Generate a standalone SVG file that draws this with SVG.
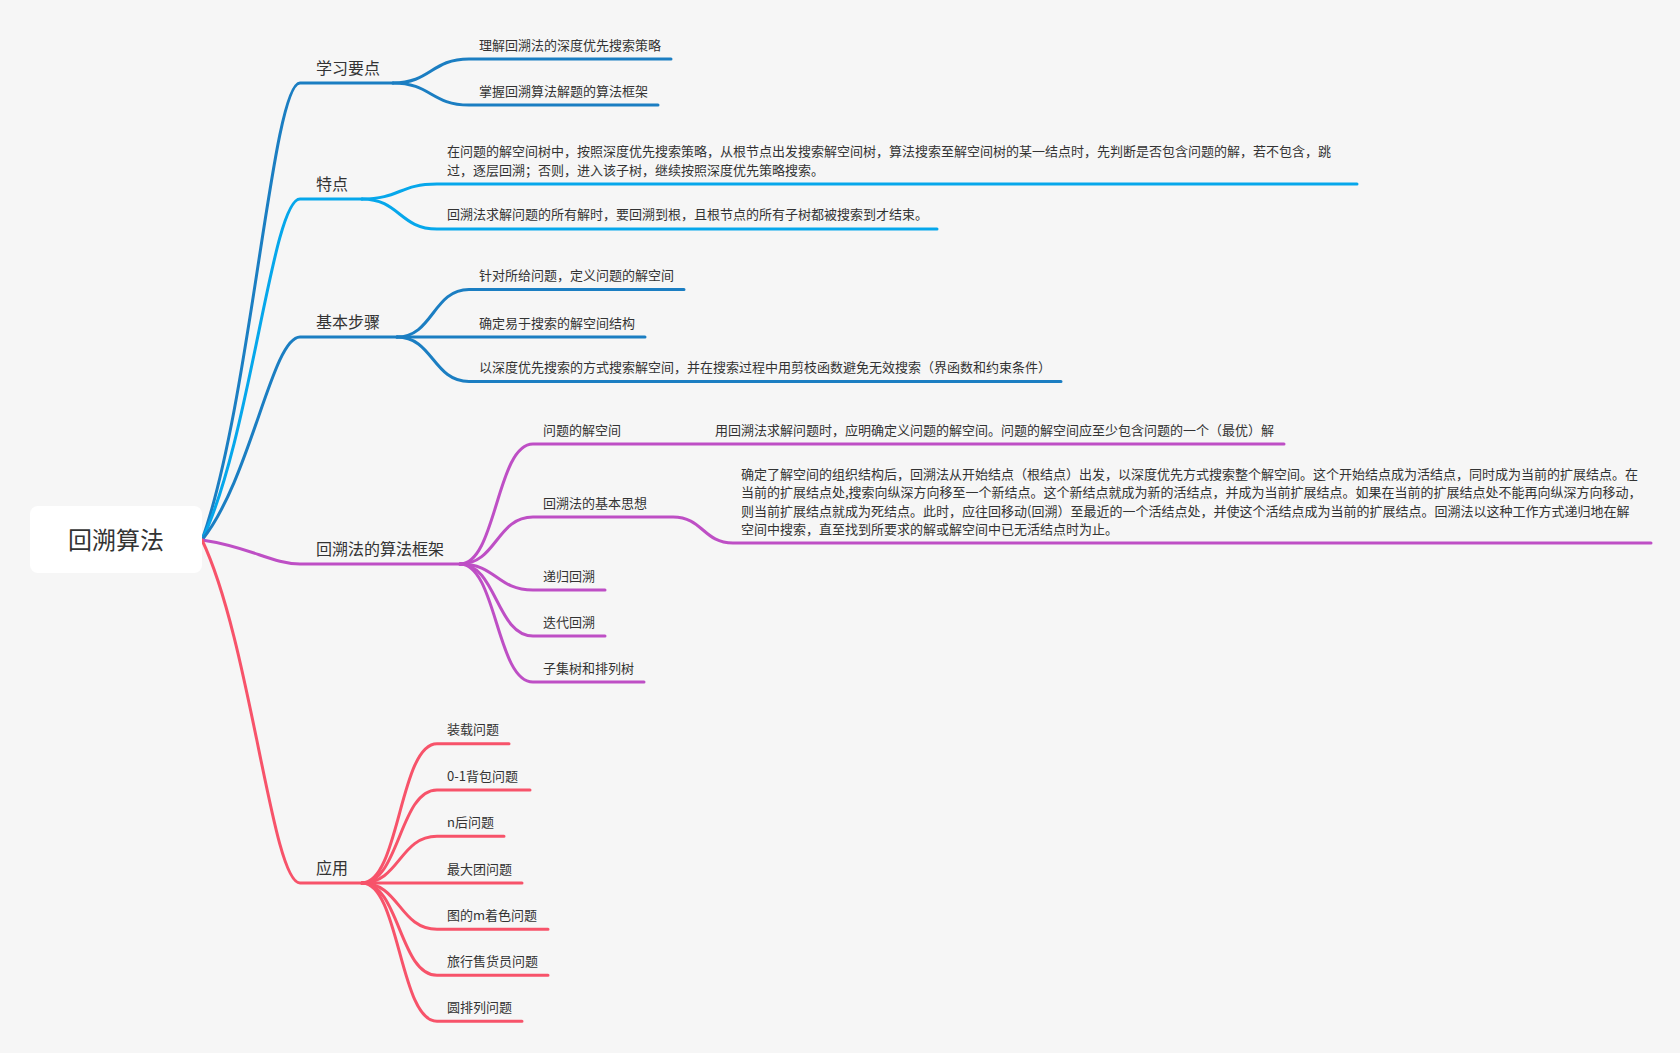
<svg xmlns="http://www.w3.org/2000/svg" width="1680" height="1053" viewBox="0 0 1680 1053">
<style>
text{font-family:"Noto Sans CJK SC","Noto Sans",sans-serif;fill:#333333}
.l1{font-size:16px}
.l2{font-size:13px}
.root{font-size:24px}
path{fill:none;stroke-width:3;stroke-linecap:round;stroke-linejoin:round}
.db{stroke:#1B7EC2}
.lb{stroke:#06A7EB}
.pu{stroke:#BE4FC5}
.rd{stroke:#F7536A}
</style>
<rect x="0" y="0" width="1680" height="1053" fill="#F6F6F6"/>
<g id="connectors">
<path class="db" d="M202,540 C251,403 272,83 300,83 H393"/>
<path class="lb" d="M202,540 C251,438 272,199 300,199 H362"/>
<path class="db" d="M202,540 C251,479 272,337 300,337 H397"/>
<path class="pu" d="M202,540 C251,547 272,564 300,564 H460"/>
<path class="rd" d="M202,540 C251,643 272,883 300,883 H362"/>
<path class="db" d="M393,83 C431,83 431,59 469,59 H671"/>
<path class="db" d="M393,83 C431,83 431,105 469,105 H658"/>
<path class="lb" d="M362,199 C399.5,199 399.5,184 437,184 H1357"/>
<path class="lb" d="M362,199 C399.5,199 399.5,229 437,229 H937"/>
<path class="db" d="M397,337 C433,337 433,289.5 469,289.5 H684"/>
<path class="db" d="M397,337 H645"/>
<path class="db" d="M397,337 C433,337 433,381.5 469,381.5 H1061"/>
<path class="pu" d="M460,564 C496.5,564 496.5,444 533,444 H1284"/>
<path class="pu" d="M460,564 C496.5,564 496.5,517 533,517 H673 C703,517 703,543 733,543 H1651"/>
<path class="pu" d="M460,564 C496.5,564 496.5,590 533,590 H605"/>
<path class="pu" d="M460,564 C496.5,564 496.5,636 533,636 H605"/>
<path class="pu" d="M460,564 C496.5,564 496.5,682 533,682 H644"/>
<path class="rd" d="M362,883 C399.5,883 399.5,743.7 437,743.7 H509"/>
<path class="rd" d="M362,883 C399.5,883 399.5,790 437,790 H530"/>
<path class="rd" d="M362,883 C399.5,883 399.5,836.3 437,836.3 H504"/>
<path class="rd" d="M362,883 H522"/>
<path class="rd" d="M362,883 C399.5,883 399.5,929.3 437,929.3 H548"/>
<path class="rd" d="M362,883 C399.5,883 399.5,975.3 437,975.3 H548"/>
<path class="rd" d="M362,883 C399.5,883 399.5,1021.3 437,1021.3 H522"/>
</g>
<g id="root">
<rect x="30" y="506" width="172" height="67" rx="8" fill="#FFFFFF"/>
<text class="root" x="116" y="549" text-anchor="middle">回溯算法</text>
</g>
<g id="n-xuexi"><text class="l1" x="316" y="73.5">学习要点</text></g>
<g id="n-xuexi-1"><text class="l2" x="479" y="49.5">理解回溯法的深度优先搜索策略</text></g>
<g id="n-xuexi-2"><text class="l2" x="479" y="95.5">掌握回溯算法解题的算法框架</text></g>
<g id="n-tedian"><text class="l1" x="316" y="189.5">特点</text></g>
<g id="n-tedian-1"><text class="l2" x="447" y="156">在问题的解空间树中，按照深度优先搜索策略，从根节点出发搜索解空间树，算法搜索至解空间树的某一结点时，先判断是否包含问题的解，若不包含，跳</text><text class="l2" x="447" y="174.5">过，逐层回溯；否则，进入该子树，继续按照深度优先策略搜索。</text></g>
<g id="n-tedian-2"><text class="l2" x="447" y="219">回溯法求解问题的所有解时，要回溯到根，且根节点的所有子树都被搜索到才结束。</text></g>
<g id="n-buzhou"><text class="l1" x="316" y="327.5">基本步骤</text></g>
<g id="n-buzhou-1"><text class="l2" x="479" y="280">针对所给问题，定义问题的解空间</text></g>
<g id="n-buzhou-2"><text class="l2" x="479" y="327.5">确定易于搜索的解空间结构</text></g>
<g id="n-buzhou-3"><text class="l2" x="479" y="372">以深度优先搜索的方式搜索解空间，并在搜索过程中用剪枝函数避免无效搜索（界函数和约束条件）</text></g>
<g id="n-kuangjia"><text class="l1" x="316" y="554.5">回溯法的算法框架</text></g>
<g id="n-jiekongjian"><text class="l2" x="543" y="434.5">问题的解空间</text></g>
<g id="n-jiekongjian-1"><text class="l2" x="715" y="434.5">用回溯法求解问题时，应明确定义问题的解空间。问题的解空间应至少包含问题的一个（最优）解</text></g>
<g id="n-sixiang"><text class="l2" x="543" y="507.5">回溯法的基本思想</text></g>
<g id="n-sixiang-1">
<text class="l2" x="741" y="478.5">确定了解空间的组织结构后，回溯法从开始结点（根结点）出发，以深度优先方式搜索整个解空间。这个开始结点成为活结点，同时成为当前的扩展结点。在</text>
<text class="l2" x="741" y="497">当前的扩展结点处,搜索向纵深方向移至一个新结点。这个新结点就成为新的活结点，并成为当前扩展结点。如果在当前的扩展结点处不能再向纵深方向移动，</text>
<text class="l2" x="741" y="515.5">则当前扩展结点就成为死结点。此时，应往回移动(回溯）至最近的一个活结点处，并使这个活结点成为当前的扩展结点。回溯法以这种工作方式递归地在解</text>
<text class="l2" x="741" y="534">空间中搜索，直至找到所要求的解或解空间中已无活结点时为止。</text>
</g>
<g id="n-digui"><text class="l2" x="543" y="580.5">递归回溯</text></g>
<g id="n-diedai"><text class="l2" x="543" y="626.5">迭代回溯</text></g>
<g id="n-ziji"><text class="l2" x="543" y="672.5">子集树和排列树</text></g>
<g id="n-yingyong"><text class="l1" x="316" y="873.5">应用</text></g>
<g id="n-yy-1"><text class="l2" x="447" y="734">装载问题</text></g>
<g id="n-yy-2"><text class="l2" x="447" y="780.5">0-1背包问题</text></g>
<g id="n-yy-3"><text class="l2" x="447" y="827">n后问题</text></g>
<g id="n-yy-4"><text class="l2" x="447" y="873.5">最大团问题</text></g>
<g id="n-yy-5"><text class="l2" x="447" y="920">图的m着色问题</text></g>
<g id="n-yy-6"><text class="l2" x="447" y="966">旅行售货员问题</text></g>
<g id="n-yy-7"><text class="l2" x="447" y="1012">圆排列问题</text></g>
</svg>
